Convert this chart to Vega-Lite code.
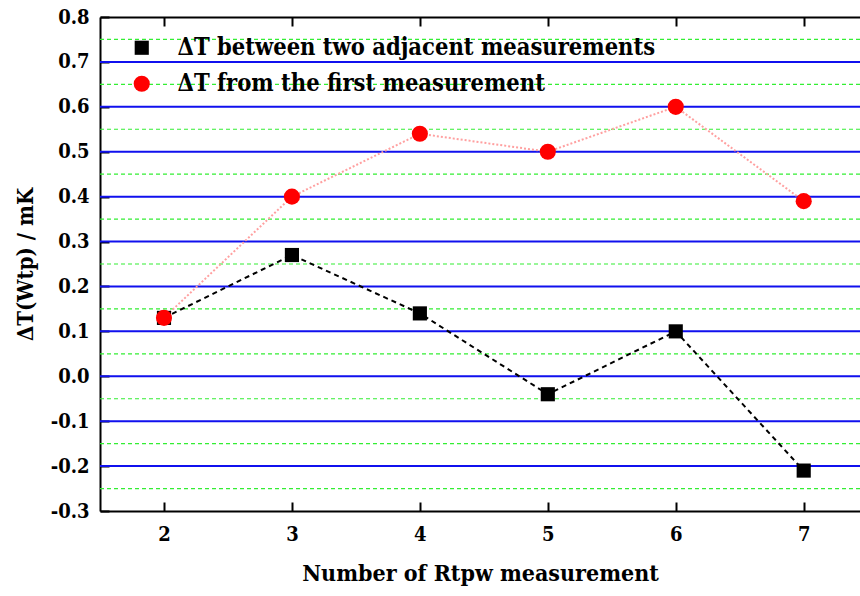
{
  "$schema": "https://vega.github.io/schema/vega-lite/v6.json",
  "width": 760,
  "height": 494,
  "autosize": {"type": "none"},
  "padding": {"left": 100, "top": 17, "right": 0, "bottom": 85},
  "background": "white",
  "config": {
    "view": {"stroke": null},
    "font": "DejaVu Serif Condensed",
    "axis": {"labelFont": "DejaVu Serif Condensed", "titleFont": "DejaVu Serif Condensed", "labelFontWeight": "bold", "titleFontWeight": "bold", "labelColor": "black", "titleColor": "black", "domainColor": "black", "tickColor": "black", "domainWidth": 2, "tickWidth": 2},
    "legend": {"labelFont": "DejaVu Serif Condensed"}
  },
  "datasets": {
    "grid": [
      {"g": -0.25, "kind": "minor"}, {"g": -0.15, "kind": "minor"}, {"g": -0.05, "kind": "minor"},
      {"g": 0.05, "kind": "minor"}, {"g": 0.15, "kind": "minor"}, {"g": 0.25, "kind": "minor"},
      {"g": 0.35, "kind": "minor"}, {"g": 0.45, "kind": "minor"}, {"g": 0.55, "kind": "minor"},
      {"g": 0.65, "kind": "minor"}, {"g": 0.75, "kind": "minor"},
      {"g": -0.2, "kind": "major"}, {"g": -0.1, "kind": "major"}, {"g": 0.0, "kind": "major"},
      {"g": 0.1, "kind": "major"}, {"g": 0.2, "kind": "major"}, {"g": 0.3, "kind": "major"},
      {"g": 0.4, "kind": "major"}, {"g": 0.5, "kind": "major"}, {"g": 0.6, "kind": "major"},
      {"g": 0.7, "kind": "major"}
    ],
    "pts": [
      {"n": 2, "dT": 0.13, "series": "ΔT between two adjacent measurements"},
      {"n": 3, "dT": 0.27, "series": "ΔT between two adjacent measurements"},
      {"n": 4, "dT": 0.14, "series": "ΔT between two adjacent measurements"},
      {"n": 5, "dT": -0.04, "series": "ΔT between two adjacent measurements"},
      {"n": 6, "dT": 0.10, "series": "ΔT between two adjacent measurements"},
      {"n": 7, "dT": -0.21, "series": "ΔT between two adjacent measurements"},
      {"n": 2, "dT": 0.13, "series": "ΔT from the first measurement"},
      {"n": 3, "dT": 0.40, "series": "ΔT from the first measurement"},
      {"n": 4, "dT": 0.54, "series": "ΔT from the first measurement"},
      {"n": 5, "dT": 0.50, "series": "ΔT from the first measurement"},
      {"n": 6, "dT": 0.60, "series": "ΔT from the first measurement"},
      {"n": 7, "dT": 0.39, "series": "ΔT from the first measurement"}
    ]
  },
  "layer": [
    {
      "data": {"name": "grid"},
      "mark": {"type": "rule"},
      "encoding": {
        "y": {"field": "g", "type": "quantitative", "scale": {"domain": [-0.3, 0.8], "nice": false, "zero": false},
          "axis": {"orient": "left",
            "values": [-0.3, -0.25, -0.2, -0.15, -0.1, -0.05, 0, 0.05, 0.1, 0.15, 0.2, 0.25, 0.3, 0.35, 0.4, 0.45, 0.5, 0.55, 0.6, 0.65, 0.7, 0.75, 0.8],
            "labelExpr": "abs(datum.value*10 - round(datum.value*10)) > 0.01 ? '' : (datum.value < -0.001 ? '-' + format(-datum.value, '.1f') : format(abs(datum.value), '.1f'))",
            "grid": false,
            "tickSize": -9, "labelPadding": 20, "labelFontSize": 20,
            "title": "ΔT(Wtp) / mK", "titleFontSize": 22, "titlePadding": 13}},
        "stroke": {"field": "kind", "type": "nominal", "scale": {"domain": ["major", "minor"], "range": ["#1010ee", "#33ee33"]}, "legend": null},
        "strokeDash": {"field": "kind", "type": "nominal", "scale": {"domain": ["major", "minor"], "range": [[1, 0], [4, 3]]}, "legend": null},
        "strokeWidth": {"field": "kind", "type": "nominal", "scale": {"domain": ["major", "minor"], "range": [2, 1.2]}, "legend": null}
      }
    },
    {
      "data": {"name": "pts"},
      "mark": {"type": "line", "strokeWidth": 2},
      "encoding": {
        "x": {"field": "n", "type": "quantitative", "scale": {"domain": [1.5, 7.44], "nice": false, "zero": false},
          "axis": {"orient": "bottom", "values": [2, 3, 4, 5, 6, 7], "format": "d", "grid": false, "tickSize": -9, "labelPadding": 22, "labelFontSize": 20, "title": "Number of Rtpw measurement", "titleFontSize": 23, "titlePadding": 18}},
        "y": {"field": "dT", "type": "quantitative"},
        "detail": {"field": "series", "type": "nominal"},
        "stroke": {"field": "series", "type": "nominal", "scale": {"range": ["black", "#ffa0a0"]}, "legend": null},
        "strokeDash": {"field": "series", "type": "nominal", "scale": {"range": [[5, 4], [2, 2]]}, "legend": null}
      }
    },
    {
      "data": {"name": "pts"},
      "mark": {"type": "point", "filled": true, "opacity": 1},
      "encoding": {
        "x": {"field": "n", "type": "quantitative", "axis": {"orient": "top", "values": [2, 3, 4, 5, 6, 7], "labels": false, "grid": false, "tickSize": -9, "title": null}},
        "y": {"field": "dT", "type": "quantitative"},
        "color": {"field": "series", "type": "nominal", "scale": {"range": ["black", "red"]},
          "legend": {"title": null, "orient": "none", "legendX": 30, "legendY": 19, "labelFontSize": 23.5, "labelFontWeight": "bold", "labelColor": "black", "symbolSize": 220, "rowPadding": 11, "labelOffset": 24, "labelLimit": 600,
            "encode": {"symbols": {"update": {"shape": {"signal": "datum.value === 'ΔT from the first measurement' ? 'circle' : 'M-4.2,-0.14H-3.2V0.14H-4.2Z M-1.8,-0.12H-1.6V0.12H-1.8Z M-0.95,-0.95H0.95V0.95H-0.95Z M1.5,-0.14H2.4V0.14H1.5Z M3.95,-0.12H4.15V0.12H3.95Z'"}}}}}},
        "shape": {"field": "series", "type": "nominal", "scale": {"range": ["square", "circle"]}},
        "size": {"field": "series", "type": "nominal", "scale": {"range": [200, 260]}, "legend": null}
      }
    }
  ],
  "resolve": {"scale": {"stroke": "independent", "strokeDash": "independent"}}
}
